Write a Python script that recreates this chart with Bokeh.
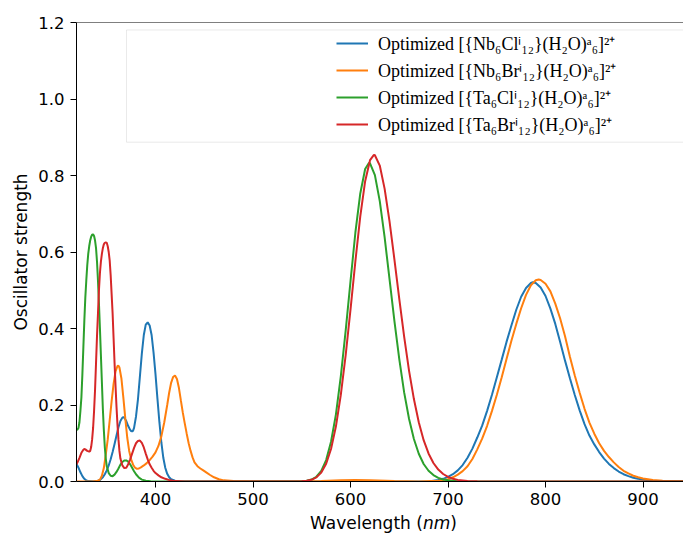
from bokeh.plotting import figure
from bokeh.layouts import column
from bokeh.models import (FixedTicker, PrintfTickFormatter, Legend, LegendItem,
                          BoxAnnotation, Span, Range1d, Div)
from bokeh.embed import file_html
from bokeh.resources import INLINE
from bokeh.core.properties import value

# ---------------- data ----------------
x_ticks = [400, 500, 600, 700, 800, 900]
y_ticks = [0.0, 0.2, 0.4, 0.6, 0.8, 1.0, 1.2]

labels = [
    "Optimized [{Nb\u2086Cl\u2071\u2081\u2082}(H\u2082O)\u1d43\u2086]\u00b2\u207a",
    "Optimized [{Nb\u2086Br\u2071\u2081\u2082}(H\u2082O)\u1d43\u2086]\u00b2\u207a",
    "Optimized [{Ta\u2086Cl\u2071\u2081\u2082}(H\u2082O)\u1d43\u2086]\u00b2\u207a",
    "Optimized [{Ta\u2086Br\u2071\u2081\u2082}(H\u2082O)\u1d43\u2086]\u00b2\u207a",
]
colors = ["#1f77b4", "#ff7f0e", "#2ca02c", "#d62728"]

# Nb6Cl (blue)
x_nbcl = [319, 321, 323, 325, 327, 329, 332, 336, 340, 343, 346, 348, 350, 352, 354, 356, 358, 360,
          362, 364, 366, 367, 368, 370, 372, 374, 375, 376, 377, 378, 380, 382, 384, 386, 388, 390,
          392, 394, 396, 398, 400, 402, 404, 406, 408, 410, 412, 414, 416, 420, 425, 440,
          500, 600, 680, 690, 695, 700, 705, 710, 715, 720, 725, 730, 735, 740, 745, 750, 755, 760,
          765, 770, 775, 780, 785, 787, 790, 795, 800, 805, 810, 815, 820, 825, 830, 835, 840, 845,
          850, 855, 860, 865, 870, 875, 880, 885, 890, 895, 900, 910, 920, 935, 942]
y_nbcl = [0.046, 0.036, 0.024, 0.014, 0.007, 0.003, 0.001, 0.0005, 0.001, 0.004, 0.011, 0.019, 0.029,
          0.042, 0.058, 0.077, 0.098, 0.12, 0.142, 0.158, 0.167, 0.168, 0.167, 0.158, 0.145, 0.135,
          0.132, 0.131, 0.133, 0.14, 0.17, 0.215, 0.275, 0.335, 0.383, 0.41, 0.416, 0.408, 0.383,
          0.337, 0.28, 0.216, 0.155, 0.102, 0.062, 0.036, 0.02, 0.011, 0.006, 0.002, 0.0005, 0.0,
          0.0, 0.0, 0.0, 0.004, 0.007, 0.012, 0.019, 0.029, 0.043, 0.062, 0.086, 0.115, 0.146, 0.184,
          0.226, 0.272, 0.318, 0.365, 0.408, 0.449, 0.483, 0.506, 0.519, 0.521, 0.519, 0.507, 0.485,
          0.452, 0.412, 0.365, 0.316, 0.27, 0.226, 0.186, 0.15, 0.12, 0.097, 0.077, 0.06, 0.046,
          0.035, 0.026, 0.019, 0.014, 0.01, 0.007, 0.005, 0.002, 0.001, 0.0003, 0.0001]

# Nb6Br (orange)
x_nbbr = [319, 335, 340, 343, 345, 347, 349, 351, 353, 355, 357, 359, 361, 362, 363, 365, 367, 369,
          371, 373, 375, 377, 379, 381, 383, 385, 388, 391, 394, 397, 400, 403, 406, 409, 412, 414,
          416, 418, 420, 422, 424, 426, 428, 430, 432, 434, 436, 438, 440, 443, 446, 449, 452, 456,
          460, 465, 470, 480, 500, 540, 570, 590, 605, 620, 645, 670, 690, 695, 700, 705, 710, 715,
          720, 725, 730, 735, 740, 745, 750, 755, 760, 765, 770, 775, 780, 785, 790, 793, 795, 800,
          805, 810, 815, 820, 825, 830, 835, 840, 845, 850, 855, 860, 865, 870, 875, 880, 885, 890,
          895, 900, 905, 910, 920, 935, 942]
y_nbbr = [0.0, 0.0, 0.001, 0.005, 0.015, 0.035, 0.07, 0.11, 0.16, 0.21, 0.255, 0.288, 0.302, 0.303,
          0.298, 0.27, 0.22, 0.165, 0.115, 0.08, 0.058, 0.044, 0.036, 0.033, 0.034, 0.037, 0.042,
          0.048, 0.056, 0.065, 0.076, 0.093, 0.118, 0.155, 0.2, 0.232, 0.258, 0.273, 0.277, 0.268,
          0.245, 0.212, 0.18, 0.152, 0.125, 0.1, 0.08, 0.063, 0.05, 0.04, 0.034, 0.029, 0.024, 0.017,
          0.011, 0.006, 0.003, 0.001, 0.0, 0.0, 0.001, 0.003, 0.004, 0.003, 0.001, 0.0, 0.002, 0.004,
          0.006, 0.011, 0.018, 0.027, 0.04, 0.059, 0.084, 0.112, 0.145, 0.184, 0.226, 0.272, 0.32,
          0.368, 0.412, 0.453, 0.488, 0.513, 0.526, 0.528, 0.527, 0.517, 0.497, 0.465, 0.426, 0.38,
          0.326, 0.277, 0.232, 0.19, 0.154, 0.125, 0.1, 0.08, 0.064, 0.05, 0.038, 0.028, 0.021,
          0.015, 0.011, 0.008, 0.006, 0.004, 0.002, 0.0005, 0.0003]

# Ta6Cl (green)
x_tacl = [319, 320, 321, 322, 323, 324, 325, 326, 327, 328, 329, 330, 331, 332, 333, 334, 335, 336,
          337, 338, 339, 340, 341, 342, 343, 344, 345, 346, 347, 348, 349, 350, 352, 354, 356, 358,
          360, 362, 364, 366, 368, 370, 372, 374, 376, 378, 380, 383, 386, 390, 395, 400,
          500, 540, 550, 555, 560, 565, 570, 575, 580, 585, 590, 595, 600, 605, 610, 615, 619, 620,
          625, 630, 635, 640, 645, 650, 655, 660, 665, 670, 675, 680, 685, 690, 695, 700, 710, 720,
          740, 942]
y_tacl = [0.135, 0.136, 0.14, 0.155, 0.185, 0.22, 0.28, 0.35, 0.42, 0.48, 0.525, 0.565, 0.595, 0.615,
          0.63, 0.64, 0.645, 0.646, 0.642, 0.63, 0.61, 0.575, 0.525, 0.465, 0.40, 0.33, 0.26, 0.19,
          0.135, 0.09, 0.06, 0.04, 0.022, 0.015, 0.014, 0.018, 0.025, 0.034, 0.044, 0.051, 0.055,
          0.055, 0.052, 0.045, 0.036, 0.027, 0.019, 0.01, 0.005, 0.002, 0.0005, 0.0,
          0.0, 0.0, 0.0006, 0.0018, 0.005, 0.0124, 0.0277, 0.056, 0.104, 0.175, 0.274, 0.394, 0.524,
          0.651, 0.753, 0.817, 0.833, 0.832, 0.801, 0.733, 0.638, 0.529, 0.42, 0.32, 0.233, 0.164,
          0.111, 0.0725, 0.0458, 0.0281, 0.0167, 0.0096, 0.0054, 0.003, 0.0008, 0.0002, 0.0, 0.0]

# Ta6Br (red)
x_tabr = [319, 320, 322, 324, 326, 327, 328, 330, 332, 333, 334, 335, 336, 337, 338, 339, 340, 341,
          342, 343, 344, 345, 346, 347, 348, 349, 350, 351, 352, 353, 354, 355, 356, 357, 358, 359,
          360, 361, 362, 363, 364, 366, 368, 370, 372, 374, 376, 378, 380, 382, 384, 386, 388, 390,
          392, 394, 396, 398, 400, 403, 406, 410, 415, 420, 430,
          500, 540, 550, 555, 560, 565, 570, 575, 580, 585, 590, 595, 600, 605, 610, 615, 620, 624,
          625, 630, 635, 640, 645, 650, 655, 660, 665, 670, 675, 680, 685, 690, 695, 700, 705, 710,
          720, 730, 750, 942]
y_tabr = [0.045, 0.05, 0.062, 0.075, 0.083, 0.085, 0.084, 0.08, 0.078, 0.08, 0.09, 0.11, 0.14, 0.185,
          0.24, 0.31, 0.38, 0.44, 0.5, 0.545, 0.575, 0.595, 0.61, 0.62, 0.624, 0.625, 0.624, 0.615,
          0.6, 0.578, 0.54, 0.49, 0.44, 0.375, 0.31, 0.25, 0.195, 0.148, 0.11, 0.08, 0.06, 0.042,
          0.035, 0.036, 0.045, 0.058, 0.073, 0.088, 0.1, 0.106, 0.107, 0.101, 0.089, 0.073, 0.058,
          0.045, 0.036, 0.028, 0.022, 0.016, 0.011, 0.007, 0.003, 0.001, 0.0,
          0.0, 0.0, 0.0006, 0.0017, 0.0045, 0.0107, 0.0233, 0.0463, 0.085, 0.1436, 0.2257, 0.33, 0.45,
          0.576, 0.693, 0.785, 0.84, 0.854, 0.853, 0.826, 0.765, 0.68, 0.581, 0.4775, 0.3785, 0.29,
          0.2155, 0.1547, 0.108, 0.0733, 0.0484, 0.0312, 0.0196, 0.012, 0.0072, 0.0042, 0.0014,
          0.0004, 0.0, 0.0]

series = [(x_nbcl, y_nbcl), (x_nbbr, y_nbbr), (x_tacl, y_tacl), (x_tabr, y_tabr)]

# ---------------- figure ----------------
p = figure(width=683, height=512, output_backend="svg", toolbar_location=None,
           x_range=Range1d(318.97, 941.5), y_range=Range1d(0, 1.2),
           min_border_left=76, min_border_right=0, min_border_top=22, min_border_bottom=31)
p.outline_line_color = None
p.grid.visible = False
p.background_fill_color = "white"
p.border_fill_color = "white"

for ax in (p.xaxis[0], p.yaxis[0]):
    ax.major_label_text_font = "DejaVu Sans"
    ax.major_label_text_font_size = "16.5px"
    ax.major_label_text_color = "black"
    ax.major_tick_out = 6
    ax.major_tick_in = 0
    ax.minor_tick_out = 0
    ax.minor_tick_in = 0
    ax.axis_line_color = "black"
    ax.axis_line_width = 1
    ax.major_tick_line_color = "black"

p.xaxis[0].ticker = FixedTicker(ticks=x_ticks)
p.xaxis[0].major_label_standoff = 5
p.yaxis[0].ticker = FixedTicker(ticks=y_ticks)
p.yaxis[0].formatter = PrintfTickFormatter(format="%.1f")
p.yaxis[0].major_label_standoff = 6
p.yaxis[0].axis_label = "Oscillator strength"
p.yaxis[0].axis_label_text_font = "DejaVu Sans"
p.yaxis[0].axis_label_text_font_size = "17px"
p.yaxis[0].axis_label_text_font_style = "normal"
p.yaxis[0].axis_label_text_color = "black"
p.yaxis[0].axis_label_standoff = 4

# top spine
p.add_layout(Span(location=1.2, dimension="width", line_color="black", line_width=1))

renderers = []
for (xs, ys), c in zip(series, colors):
    renderers.append(p.line(xs, ys, line_color=c, line_width=2))

# legend frame (extends past the right edge, as in the reference)
p.add_layout(BoxAnnotation(left=370.25, right=1000, top=1.1804, bottom=0.8871,
                           fill_color="white", fill_alpha=0.8,
                           line_color="#bbbbbb", line_width=1))

legend = Legend(items=[LegendItem(label=value(t), renderers=[r]) for t, r in zip(labels, renderers)],
                location=(260, 345), padding=0, margin=0, spacing=3,
                glyph_width=32, glyph_height=24, label_height=24, label_standoff=10,
                label_text_font="Liberation Serif", label_text_font_size="18px",
                label_text_color="black",
                border_line_color=None, background_fill_color=None)
p.add_layout(legend)

# x-axis title with italic unit
xlabel = Div(text="Wavelength (<i>nm</i>)", width=683, height=22, margin=(0, 0, 0, 0),
             styles={"font-family": "DejaVu Sans", "font-size": "17px", "color": "black",
                     "line-height": "22px", "padding-left": "310px", "white-space": "nowrap",
                     "box-sizing": "border-box"})

page = column(p, xlabel, spacing=0)

open("out.html", "w").write(file_html(page, INLINE))
